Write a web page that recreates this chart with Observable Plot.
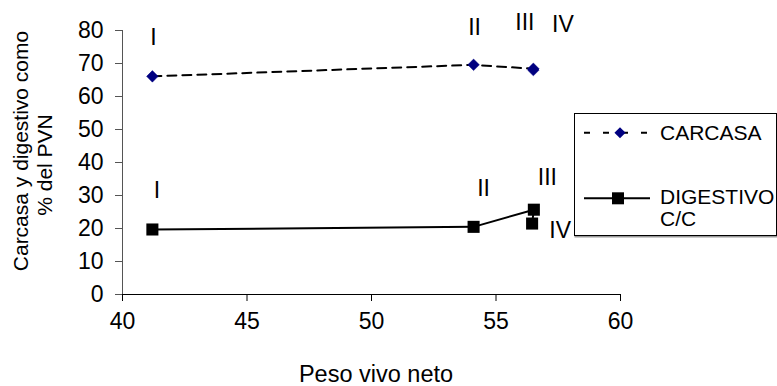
<!DOCTYPE html>
<html>
<head>
<meta charset="utf-8">
<script src="https://cdn.jsdelivr.net/npm/d3@7"></script>
<script src="https://cdn.jsdelivr.net/npm/@observablehq/plot@0.6"></script>
<style>
  html, body { margin: 0; padding: 0; background: white; }
  #chart svg { display: block; }
</style>
</head>
<body>
<div id="chart"></div>
<script>
// ---- data ----
const stages = ["I", "II", "III", "IV"];
const carcasaPeso = [41.2, 54.1, 56.5, 56.5];
const carcasaPct = [66.1, 69.6, 68.4, 68.0];
const digestivoPeso = [41.2, 54.1, 56.52, 56.45];
const digestivoPct = [19.7, 20.5, 25.7, 21.5];
const xTicks = [40, 45, 50, 55, 60];
const yTicks = [0, 10, 20, 30, 40, 50, 60, 70, 80];
const xTitle = "Peso vivo neto";
const yTitleLines = ["Carcasa y digestivo como", "% del PVN"];
const seriesNames = ["CARCASA", "DIGESTIVO C/C"];

const carcasa = stages.map((s, i) => ({stage: s, x: carcasaPeso[i], y: carcasaPct[i]}));
const digestivo = stages.map((s, i) => ({stage: s, x: digestivoPeso[i], y: digestivoPct[i]}));

const FONT = "'Liberation Sans', Arial, sans-serif";
const NAVY = "#000080";
const FS = 23;

function label(arr, stage, dx, dy) {
  return Plot.text(arr.filter(d => d.stage === stage), {
    x: "x", y: "y", text: "stage", dx, dy, fontSize: FS, fill: "black"
  });
}

const chart = Plot.plot({
  width: 777,
  height: 386,
  marginLeft: 122,
  marginRight: 157,
  marginTop: 30,
  marginBottom: 92,
  style: {fontFamily: FONT, fontSize: FS + "px", background: "white", color: "black"},
  x: {domain: [40, 60]},
  y: {domain: [0, 80]},
  marks: [
    Plot.axisY({ticks: yTicks, tickSize: 7, tickPadding: 12, fontSize: FS, label: null, stroke: "#555", fill: "black"}),
    Plot.axisX({ticks: xTicks, tickSize: 7, tickPadding: 11, fontSize: FS, label: null, stroke: "black", fill: "black"}),
    Plot.ruleX([40], {y1: 0, y2: 80, stroke: "#555"}),
    Plot.ruleY([0], {x1: 40, x2: 60, stroke: "black"}),
    Plot.line(carcasa, {x: "x", y: "y", stroke: "black", strokeWidth: 2, strokeDasharray: "9,6"}),
    Plot.dot(carcasa, {x: "x", y: "y", symbol: "diamond2", r: 5.2, fill: NAVY, stroke: NAVY, strokeWidth: 0.5}),
    Plot.line(digestivo, {x: "x", y: "y", stroke: "black", strokeWidth: 2}),
    Plot.dot(digestivo, {x: "x", y: "y", symbol: "square", r: 6.8, fill: "black", stroke: "none"}),
    label(carcasa, "I", 1, -39),
    label(carcasa, "II", 1, -37),
    label(carcasa, "III", -8.5, -46.5),
    label(carcasa, "IV", 29.5, -45),
    label(digestivo, "I", 4.5, -38.5),
    label(digestivo, "II", 10, -38.5),
    label(digestivo, "III", 13.5, -32),
    label(digestivo, "IV", 28, 7.5)
  ]
});

document.getElementById("chart").appendChild(chart);

// ---- axis titles and legend ----
const svg = d3.select(chart);

svg.append("text")
  .attr("x", 376).attr("y", 381.5)
  .attr("text-anchor", "middle")
  .attr("font-family", FONT).attr("font-size", 23.5).attr("fill", "black")
  .text(xTitle);

svg.append("text")
  .attr("transform", "translate(21,151) rotate(-90)")
  .attr("text-anchor", "middle").attr("dy", "0.35em")
  .attr("font-family", FONT).attr("font-size", 21).attr("fill", "black")
  .text(yTitleLines[0]);
svg.append("text")
  .attr("transform", "translate(45,165) rotate(-90)")
  .attr("text-anchor", "middle").attr("dy", "0.35em")
  .attr("font-family", FONT).attr("font-size", 21).attr("fill", "black")
  .text(yTitleLines[1]);

const lg = svg.append("g").attr("text-anchor", "start");
lg.append("rect")
  .attr("x", 575.5).attr("y", 114.5).attr("width", 202).attr("height", 122)
  .attr("fill", "none").attr("stroke", "#999").attr("stroke-width", 2);
lg.append("rect")
  .attr("x", 574.5).attr("y", 113.5).attr("width", 202).attr("height", 122)
  .attr("fill", "white").attr("stroke", "black").attr("stroke-width", 1);

// carcasa entry
lg.append("line").attr("x1", 584).attr("x2", 650).attr("y1", 132.7).attr("y2", 132.7)
  .attr("stroke", "black").attr("stroke-width", 2).attr("stroke-dasharray", "6,13");
lg.append("path").attr("d", d3.symbol(d3.symbolDiamond2, Math.PI * 25)())
  .attr("transform", "translate(620,132.7)").attr("fill", NAVY);
lg.append("text").attr("x", 660).attr("y", 139.5).attr("text-anchor", "start")
  .attr("font-family", FONT).attr("font-size", 21).attr("fill", "black")
  .text(seriesNames[0]);

// digestivo entry
lg.append("line").attr("x1", 584).attr("x2", 650).attr("y1", 198.3).attr("y2", 198.3)
  .attr("stroke", "black").attr("stroke-width", 2);
lg.append("rect").attr("x", 612).attr("y", 192.3).attr("width", 12).attr("height", 12).attr("fill", "black");
const parts = seriesNames[1].split(" ");
lg.append("text").attr("x", 660).attr("y", 204).attr("text-anchor", "start")
  .attr("font-family", FONT).attr("font-size", 21).attr("fill", "black")
  .text(parts[0]);
lg.append("text").attr("x", 660).attr("y", 226).attr("text-anchor", "start")
  .attr("font-family", FONT).attr("font-size", 21).attr("fill", "black")
  .text(parts[1]);
</script>
</body>
</html>
